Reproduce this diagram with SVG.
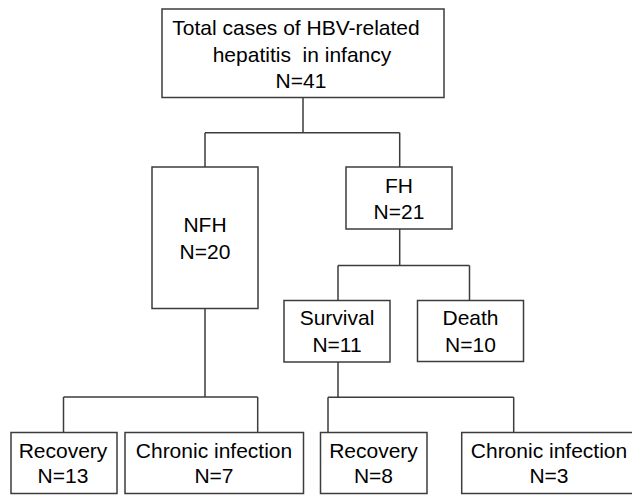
<svg xmlns="http://www.w3.org/2000/svg" width="632" height="495" viewBox="0 0 632 495">
<style>
.box{fill:#fff;stroke:#3c3c3c;stroke-width:1.5}
.ln{fill:none;stroke:#3c3c3c;stroke-width:1.5}
text{font-family:"Liberation Sans",Arial,sans-serif;font-size:21px;fill:#000;text-anchor:middle;white-space:pre}
</style>
<rect width="632" height="495" fill="#fff"/>
<g id="connectors">
<path class="ln" d="M303 97.5V132.7M205 132.7H399.7M205 132.7V167M399.7 132.7V167"/>
<path class="ln" d="M399.7 229V265.5M338 265.5H469.5M338 265.5V300.5M469.5 265.5V300.5"/>
<path class="ln" d="M205 308.5V397M63.5 397H257.7M63.5 397V432.5M257.7 397V432.5"/>
<path class="ln" d="M338 362V397.3M328 397.3H513.7M328 397.3V432.5M513.7 397.3V432.5"/>
</g>
<g id="total">
<rect class="box" x="162" y="9" width="282" height="88.5"/>
<text x="296" y="35">Total cases of HBV-related</text>
<text x="302" y="62" xml:space="preserve">hepatitis  in infancy</text>
<text x="301" y="88">N=41</text>
</g>
<g id="nfh">
<rect class="box" x="152" y="167" width="106" height="141.5"/>
<text x="205" y="232">NFH</text>
<text x="205" y="258.5">N=20</text>
</g>
<g id="fh">
<rect class="box" x="346" y="167" width="106" height="62"/>
<text x="399" y="192.5">FH</text>
<text x="399" y="219">N=21</text>
</g>
<g id="survival">
<rect class="box" x="284" y="300.5" width="106" height="61.5"/>
<text x="337" y="325">Survival</text>
<text x="337" y="351.5">N=11</text>
</g>
<g id="death">
<rect class="box" x="417.5" y="300.5" width="106" height="61"/>
<text x="470.5" y="325">Death</text>
<text x="470.5" y="351.5">N=10</text>
</g>
<g id="recovery1">
<rect class="box" x="11" y="432.5" width="106" height="61"/>
<text x="63" y="457.5">Recovery</text>
<text x="63" y="483">N=13</text>
</g>
<g id="chronic1">
<rect class="box" x="125" y="432.5" width="178.5" height="61"/>
<text x="214" y="457.5">Chronic infection</text>
<text x="214" y="483">N=7</text>
</g>
<g id="recovery2">
<rect class="box" x="320.5" y="432.5" width="106.5" height="61"/>
<text x="373.5" y="457.5">Recovery</text>
<text x="373.5" y="483">N=8</text>
</g>
<g id="chronic2">
<rect class="box" x="461.7" y="432.5" width="175" height="61"/>
<text x="549" y="457.5">Chronic infection</text>
<text x="549" y="483">N=3</text>
</g>
</svg>
